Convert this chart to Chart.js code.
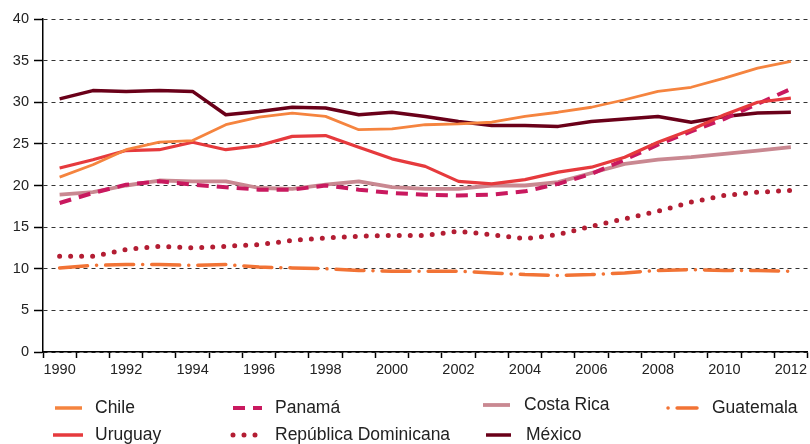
<!DOCTYPE html>
<html>
<head>
<meta charset="utf-8">
<script src="https://cdn.jsdelivr.net/npm/chart.js@4"></script>
<style>
  html, body { margin: 0; padding: 0; background: #fff; }
  #wrap { position: relative; width: 810px; height: 444px; }
</style>
</head>
<body>
<div id="wrap"><canvas id="rateChart"></canvas></div>
<script>
// ===== DATA =====
const years = ['1990','1991','1992','1993','1994','1995','1996','1997','1998','1999','2000','2001',
               '2002','2003','2004','2005','2006','2007','2008','2009','2010','2011','2012'];

const chile      = [21.0, 22.5, 24.3, 25.2, 25.4, 27.3, 28.2, 28.7, 28.3, 26.7, 26.8, 27.3, 27.4, 27.6, 28.3, 28.8, 29.4, 30.3, 31.3, 31.8, 32.9, 34.1, 34.9];
const uruguay    = [22.1, 23.1, 24.2, 24.3, 25.2, 24.3, 24.8, 25.9, 26.0, 24.6, 23.2, 22.3, 20.5, 20.2, 20.7, 21.6, 22.2, 23.4, 25.2, 26.7, 28.5, 30.0, 30.5];
const panama     = [17.9, 19.1, 20.1, 20.5, 20.1, 19.8, 19.5, 19.5, 20.0, 19.5, 19.1, 18.9, 18.8, 18.9, 19.3, 20.2, 21.4, 23.1, 24.9, 26.5, 28.0, 29.8, 31.6];
const repDom     = [11.5, 11.5, 12.3, 12.7, 12.5, 12.7, 12.9, 13.4, 13.7, 13.9, 14.0, 14.0, 14.5, 14.1, 13.6, 14.1, 15.1, 16.0, 16.9, 18.0, 18.8, 19.2, 19.4];
const costaRica  = [18.9, 19.2, 20.0, 20.6, 20.5, 20.5, 19.7, 19.6, 20.1, 20.5, 19.8, 19.6, 19.6, 20.0, 20.0, 20.4, 21.5, 22.6, 23.1, 23.4, 23.8, 24.2, 24.6];
const mexico     = [30.4, 31.4, 31.3, 31.4, 31.3, 28.5, 28.9, 29.4, 29.3, 28.5, 28.8, 28.3, 27.7, 27.2, 27.2, 27.1, 27.7, 28.0, 28.3, 27.6, 28.3, 28.7, 28.8];
const guatemala  = [10.1, 10.4, 10.5, 10.5, 10.4, 10.5, 10.2, 10.1, 10.0, 9.8, 9.7, 9.7, 9.7, 9.5, 9.3, 9.2, 9.3, 9.5, 9.8, 9.9, 9.8, 9.8, 9.7];

const yTicks = [0, 5, 10, 15, 20, 25, 30, 35, 40];

// legend slots: sample start/end, row y, text x
const legendSlots = {
    'Chile':                { x1: 55,  x2: 82,  y: 408, tx: 95 },
    'Uruguay':              { x1: 53,  x2: 83,  y: 435, tx: 95 },
    'Panamá':               { x1: 233, x2: 262, y: 408, tx: 275 },
    'República Dominicana': { x1: 233, x2: 259, y: 435, tx: 275 },
    'Costa Rica':           { x1: 483, x2: 510, y: 405, tx: 524 },
    'México':               { x1: 486, x2: 511, y: 435, tx: 526 },
    'Guatemala':            { x1: 668, x2: 697, y: 408, tx: 712 }
};

const FONT = '"Liberation Sans", Arial, sans-serif';

function makeSet(label, data, color, width, dash, cap) {
    return {
        label: label,
        data: data,
        borderColor: color,
        backgroundColor: color,
        borderWidth: width,
        borderDash: dash || [],
        borderCapStyle: cap || 'butt',
        borderJoinStyle: 'round',
        pointRadius: 0,
        tension: 0,
        fill: false
    };
}

// custom legend drawn below the axis
const legendPlugin = {
    id: 'bottomLegend',
    afterDraw(chart) {
        const ctx = chart.ctx;
        chart.data.datasets.forEach(ds => {
            const s = legendSlots[ds.label];
            if (!s) return;
            ctx.save();
            ctx.strokeStyle = ds.borderColor;
            ctx.lineWidth = Math.max(ds.borderWidth, 3.5);
            ctx.lineCap = ds.borderCapStyle;
            ctx.setLineDash(ds.borderDash);
            if (ds.label === 'Guatemala') ctx.lineDashOffset = 37;
            ctx.beginPath();
            ctx.moveTo(s.x1, s.y);
            ctx.lineTo(s.x2, s.y);
            ctx.stroke();
            ctx.restore();

            ctx.save();
            ctx.fillStyle = '#222';
            ctx.font = '17.5px ' + FONT;
            ctx.textBaseline = 'middle';
            ctx.textAlign = 'left';
            ctx.fillText(ds.label, s.tx, s.y);
            ctx.restore();
        });
    }
};

const chart = new Chart(document.getElementById('rateChart'), {
    type: 'line',
    data: {
        labels: years,
        datasets: [
            makeSet('Chile', chile, '#f5843f', 2.8),
            makeSet('Uruguay', uruguay, '#e63a3d', 3.2),
            makeSet('Panamá', panama, '#c9195f', 4, [12, 8]),
            makeSet('República Dominicana', repDom, '#b31d33', 5, [0, 11], 'round'),
            makeSet('México', mexico, '#6a0019', 3.5),
            makeSet('Guatemala', guatemala, '#f27335', 3.5, [28, 9, 0.1, 9], 'round'),
            makeSet('Costa Rica', costaRica, '#c98891', 3.8)
        ]
    },
    options: {
        responsive: true,
        maintainAspectRatio: false,
        animation: false,
        layout: { padding: { top: 19, right: 0, left: 0, bottom: 0 } },
        plugins: {
            legend: { display: false },
            tooltip: { enabled: false }
        },
        scales: {
            x: {
                type: 'category',
                offset: true,
                afterFit: scale => { scale.height = 92; },
                grid: {
                    offset: true,
                    drawOnChartArea: false,
                    drawTicks: true,
                    tickLength: 6,
                    tickColor: '#000',
                    tickWidth: 1.5
                },
                border: { color: '#000', width: 1.5 },
                ticks: {
                    autoSkip: false,
                    maxRotation: 0,
                    padding: 3,
                    color: '#222',
                    font: { family: FONT, size: 14.5 },
                    callback: (val, i) => (i % 2 === 0 ? years[i] : '')
                }
            },
            y: {
                min: yTicks[0],
                max: yTicks[yTicks.length - 1],
                afterFit: scale => { scale.width = 43; },
                afterBuildTicks: scale => { scale.ticks = yTicks.map(v => ({ value: v })); },
                grid: {
                    color: '#333',
                    lineWidth: 1,
                    drawTicks: true,
                    tickLength: 9,
                    tickColor: '#000',
                    tickWidth: 1.5,
                    tickBorderDash: []
                },
                border: { color: '#000', width: 1.5, dash: [4, 4] },
                ticks: {
                    padding: 5,
                    color: '#222',
                    font: { family: FONT, size: 14.5 }
                }
            }
        }
    },
    plugins: [legendPlugin]
});
</script>
</body>
</html>
